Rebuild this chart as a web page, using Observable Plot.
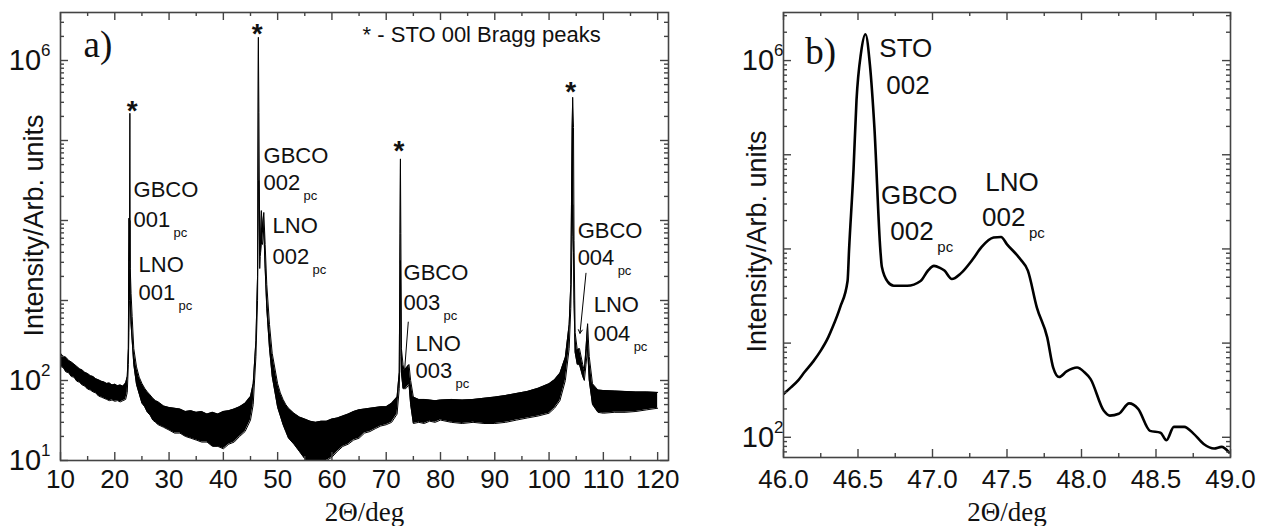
<!DOCTYPE html>
<html><head><meta charset="utf-8">
<script src="https://cdn.jsdelivr.net/npm/d3@7"></script>
<script src="https://cdn.jsdelivr.net/npm/@observablehq/plot@0.6"></script>
<style>
body{margin:0;background:#fff;}
#wrap{position:relative;width:1266px;height:526px;overflow:hidden;}
#pa{position:absolute;left:0;top:0;}
#pb{position:absolute;left:690px;top:0;}
</style></head>
<body><div id="wrap"><div id="pa"></div><div id="pb"></div></div>
<script>
// ---------- Panel a) : wide 2θ scan (noise band upper / lower envelope) ----------
const scanA_twoTheta = [10,10.5,11,11.5,12,12.5,13,13.5,14,14.5,15,15.5,16,16.5,17,17.5,18,18.5,19,19.5,20,20.5,21,21.5,22,22.3,22.5,22.6,22.7,22.78,22.85,23.0,23.2,23.5,24,24.5,25,25.5,26,26.5,27,27.5,28,29,30,31,32,33,34,35,36,37,38,39,40,41,42,43,44,45,45.5,46,46.3,46.45,46.55,46.7,46.8,47.0,47.2,47.45,47.7,48,48.5,49,50,50.5,51,51.5,52,53,54,55,56,57,58,59,60,61,62,63,64,65,66,67,68,69,70,71,72,72.4,72.55,72.62,72.7,72.8,73.1,73.3,73.6,74.2,74.5,75,76,77,78,79,80,82,84,86,88,90,92,94,96,98,100,101,102,103,103.7,104.0,104.25,104.35,104.5,104.6,104.8,105.2,105.6,106.2,106.5,106.8,107.1,107.4,108,109,110,112,114,116,118,120];
const scanA_upper = [219,200,195,178,170,160,150,140,135,126,122,115,112,105,102,98,96,92,93,88,90,86,88,85,93,112,251,10700,3160,219000,2510,1230,631,251,148,110,92,80,72,66,60,56,54,48,46,45,44,41,42,40,41,38,40,38,41,42,44,47,52,63,91,316,2000,1950000,224000,3980,4070,13300,7940,12600,5010,1580,501,219,91,70,58,50,45,39,35,33,31,30,31,31,33,34,36,38,41,43,44,45,46,47,47,52,62,126,6900,58900,6900,251,158,132,141,158,100,62,58,58,57,56,57,58,57,58,60,62,65,69,73,80,91,102,123,195,501,1580,145000,347000,145000,5620,398,240,251,158,132,251,513,200,91,76,75,74,73,72,72,71];
const scanA_lower = [150,145,128,125,112,110,98,95,88,85,78,76,72,70,64,62,60,58,56,57,55,56,54,56,58,71,158,398,1000,10000,1000,501,316,158,89,68,52,47,40,37,32,30,28,26,24,22,22,20,19,18,17,17,15,15,14,16,17,20,23,32,50,200,1000,31600,31600,2510,3550,5010,5010,7940,2510,794,251,112,46,36,28,23,19,16,13,10.5,9,9,9,10,11,13,15,16,18,19,22,23,25,27,28,30,38,79,200,3160,1000,126,79,79,79,89,50,29,30,29,31,30,32,30,29,30,29,29,30,32,34,36,39,45,56,100,251,794,6310,15800,3980,1000,224,158,158,112,100,158,251,100,50,40,39,40,40,41,43,45];

// annotation labels, panel a (film reflections)
const labA_name  = ["GBCO","LNO","GBCO","LNO","GBCO","LNO","GBCO","LNO"];
const labA_index = ["001","001","002","002","003","003","004","004"];
const labA_x     = [23.45,24.37,47.41,49.06,73.2,75.41,105.26,108.21];
const labA_yName = [19400,2300,53000,6900,1780,237,6100,708];
const labA_yIdx  = [8200,1000,24000,2900,750,106,2740,316];
// STO Bragg peak markers
const starA_x = [23.2,46.24,72.34,103.97];
const starA_y = [282000,2630000,91200,490000];
// leader arrows
const arrA_x1 = [74.06,106.8], arrA_y1 = [537,2190];
const arrA_x2 = [73.38,105.7], arrA_y2 = [133,389];
const legendA = {text:"* - STO 00l Bragg peaks", x:65.65, y:1680000};
const panelA_tag = {text:"a)", x:14.24, y:1090000};
const axisTitleA = {x:{text:"2\u0398/deg"}, y:{text:"Intensity/Arb. units", x:5.2, y:8660}};

const xTicksA = [10,20,30,40,50,60,70,80,90,100,110,120];
const xMinorA = [15,25,35,45,55,65,75,85,95,105,115];
const yTicksA = [1e1,1e2,1e3,1e4,1e5,1e6];
const yLabelsA = [1e6,1e2,1e1];

// ---------- Panel b) : zoom around STO 002 ----------
const scanB_twoTheta = [46.00,46.05,46.10,46.14,46.20,46.25,46.30,46.33,46.38,46.43,46.44,46.47,46.49,46.52,46.55,46.58,46.61,46.65,46.66,46.70,46.74,46.83,46.92,46.97,47.01,47.05,47.08,47.13,47.19,47.27,47.33,47.41,47.46,47.50,47.59,47.64,47.70,47.77,47.81,47.85,47.90,47.97,48.02,48.06,48.15,48.19,48.25,48.32,48.38,48.46,48.53,48.57,48.62,48.69,48.75,48.82,48.89,48.94,48.99];
const scanB_intensity = [288,339,405,490,640,832,1150,1480,2400,4570,9770,70000,380000,1200000,1905000,900000,195000,9770,6460,4470,4070,4070,4570,5900,6610,6300,5890,4790,5500,7760,10500,13200,13400,11200,7760,5890,2400,1150,550,437,500,550,490,417,191,170,178,229,200,117,112,93,129,129,110,85,76,79,69];

const labB_name = ["STO","GBCO","LNO"];
const labB_index = ["002","002","002"];
const labB_sub = ["","pc","pc"];
const labB_xName = [46.643,46.654,47.354];
const labB_yName = [1080000,30300,41700];
const labB_xIdx = [46.69,46.717,47.332];
const labB_yIdx = [447000,12300,17700];
const panelB_tag = {text:"b)", x:46.146, y:929000};
const axisTitleB = {x:{text:"2\u0398/deg"}, y:{text:"Intensity/Arb. units", x:45.824, y:11980}};

const xTicksB = [46.0,46.5,47.0,47.5,48.0,48.5,49.0];
const xMinorB = [46.25,46.75,47.25,47.75,48.25,48.75];
const yTicksB = [1e2,1e3,1e4,1e5,1e6];
const yLabelsB = [1e6,1e2];

// ---------- helpers ----------
const SANS = "Liberation Sans, Arial, sans-serif";
const SERIF = "Liberation Serif, Times New Roman, serif";
const INK = "#111";
function logMinors(domain){
  const out=[];
  for(let e=-1;e<8;e++) for(let k=2;k<=9;k++){const v=k*Math.pow(10,e); if(v>domain[0]&&v<domain[1]) out.push(v);}
  return out;
}
function frameTicks(xMaj,xMin,yMaj,yMin,fw,fh){
  const s={stroke:"#444",strokeWidth:1.4};
  return [
    Plot.tickX(xMaj,{x:d=>d,insetTop:fh-8,...s}),
    Plot.tickX(xMaj,{x:d=>d,insetBottom:fh-8,...s}),
    Plot.tickX(xMin,{x:d=>d,insetTop:fh-4,...s}),
    Plot.tickX(xMin,{x:d=>d,insetBottom:fh-4,...s}),
    Plot.tickY(yMaj,{y:d=>d,insetRight:fw-8,...s}),
    Plot.tickY(yMaj,{y:d=>d,insetLeft:fw-8,...s}),
    Plot.tickY(yMin,{y:d=>d,insetRight:fw-4,...s}),
    Plot.tickY(yMin,{y:d=>d,insetLeft:fw-4,...s}),
    Plot.frame({stroke:"#444",strokeWidth:1.6})
  ];
}
function post(svg){
  const root=d3.select(svg);
  root.selectAll("text").each(function(){
    const m=/^10\^(\d+)$/.exec(this.textContent);
    if(!m) return;
    const s=d3.select(this); s.text(null);
    s.append("tspan").text("10");
    s.append("tspan").attr("dy","-14").attr("font-size","17").text(m[1]);
  });
  root.selectAll('g[aria-label="x-label"] text').each(function(){
    const s=d3.select(this); s.text(null);
    s.append("tspan").text("2");
    s.append("tspan").attr("font-style","italic").text("\u0398");
    s.append("tspan").text("/deg");
  });
  root.selectAll('g[aria-label="y-label"] text').style("letter-spacing","1.1px");
}

// ---------- Panel a ----------
{
  const W=690,H=526,m={top:12,right:22,bottom:66,left:60};
  const fw=W-m.left-m.right, fh=H-m.top-m.bottom;
  const yDom=[10,3.98e6];
  const scan=scanA_twoTheta.map((x,i)=>({x,hi:scanA_upper[i],lo:scanA_lower[i]}));
  const labs=labA_name.map((n,i)=>({n,idx:labA_index[i],x:labA_x[i],yn:labA_yName[i],yi:labA_yIdx[i]}));
  const stars=starA_x.map((x,i)=>({x,y:starA_y[i]}));
  const arrows=arrA_x1.map((x1,i)=>({x1,y1:arrA_y1[i],x2:arrA_x2[i],y2:arrA_y2[i]}));
  const svg=Plot.plot({
    width:W,height:H,marginTop:m.top,marginRight:m.right,marginBottom:m.bottom,marginLeft:m.left,
    style:{fontFamily:SANS,color:INK,background:"white",overflow:"visible"},
    x:{domain:[10,122]},
    y:{type:"log",domain:yDom},
    marks:[
      Plot.areaY(scan,{x:"x",y1:"lo",y2:"hi",fill:"#000",clip:true}),
      Plot.line(scan,{x:"x",y:"hi",stroke:"#000",strokeWidth:1,clip:true}),
      Plot.line(scan,{x:"x",y:"lo",stroke:"#000",strokeWidth:1,clip:true}),
      Plot.arrow(arrows,{x1:"x1",y1:"y1",x2:"x2",y2:"y2",stroke:"#000",strokeWidth:1,headLength:6}),
      Plot.text(labs,{x:"x",y:"yn",text:"n",textAnchor:"start",lineAnchor:"bottom",fontSize:22,fill:INK}),
      Plot.text(labs,{x:"x",y:"yi",text:"idx",textAnchor:"start",lineAnchor:"bottom",fontSize:22,fill:INK}),
      Plot.text(labs,{x:"x",y:"yi",text:()=>"pc",textAnchor:"start",lineAnchor:"bottom",fontSize:13,dx:40,dy:10,fill:INK}),
      Plot.text(stars,{x:"x",y:"y",text:()=>"*",lineAnchor:"middle",fontSize:28,fontWeight:"bold",dy:7,fill:INK}),
      Plot.text([legendA],{x:"x",y:"y",text:"text",textAnchor:"start",lineAnchor:"bottom",fontSize:22,fill:INK}),
      Plot.text([panelA_tag],{x:"x",y:"y",text:"text",textAnchor:"start",lineAnchor:"bottom",fontSize:37,fontFamily:SERIF,fill:INK}),
      ...frameTicks(xTicksA,xMinorA,yTicksA,logMinors(yDom),fw,fh),
      Plot.axisX(xTicksA,{anchor:"bottom",tickSize:0,tickPadding:9,fontSize:26,tickFormat:d=>String(d),label:null}),
      Plot.axisY(yLabelsA,{anchor:"left",tickSize:0,tickPadding:10,fontSize:29,tickFormat:d=>"10^"+Math.round(Math.log10(d)),label:null}),
      Plot.text([axisTitleA.x],{frameAnchor:"bottom",text:"text",lineAnchor:"bottom",dy:60,fontSize:27,fontFamily:SERIF,fill:INK,ariaLabel:"x-label"}),
      Plot.text([axisTitleA.y],{x:"x",y:"y",text:"text",rotate:-90,textAnchor:"middle",lineAnchor:"middle",fontSize:27,fill:INK,ariaLabel:"y-label"})
    ]
  });
  post(svg);
  document.getElementById("pa").appendChild(svg);
}

// ---------- Panel b ----------
{
  const W=576,H=526,m={top:12,right:36,bottom:69,left:93};
  const fw=W-m.left-m.right, fh=H-m.top-m.bottom;
  const yDom=[61,3.24e6];
  const scan=scanB_twoTheta.map((x,i)=>({x,y:scanB_intensity[i]}));
  const labs=labB_name.map((n,i)=>({n,idx:labB_index[i],sub:labB_sub[i],xn:labB_xName[i],yn:labB_yName[i],xi:labB_xIdx[i],yi:labB_yIdx[i]}));
  const svg=Plot.plot({
    width:W,height:H,marginTop:m.top,marginRight:m.right,marginBottom:m.bottom,marginLeft:m.left,
    style:{fontFamily:SANS,color:INK,background:"white",overflow:"visible"},
    x:{domain:[46,49]},
    y:{type:"log",domain:yDom},
    marks:[
      Plot.line(scan,{x:"x",y:"y",stroke:"#000",strokeWidth:2.6,strokeLinejoin:"round",curve:"monotone-x",clip:true}),
      Plot.text(labs,{x:"xn",y:"yn",text:"n",textAnchor:"start",lineAnchor:"bottom",fontSize:26,fill:INK}),
      Plot.text(labs,{x:"xi",y:"yi",text:"idx",textAnchor:"start",lineAnchor:"bottom",fontSize:26,fill:INK}),
      Plot.text(labs,{x:"xi",y:"yi",text:"sub",textAnchor:"start",lineAnchor:"bottom",fontSize:15,dx:47,dy:12,fill:INK}),
      Plot.text([panelB_tag],{x:"x",y:"y",text:"text",textAnchor:"start",lineAnchor:"bottom",fontSize:37,fontFamily:SERIF,fill:INK}),
      ...frameTicks(xTicksB,xMinorB,yTicksB,logMinors(yDom),fw,fh),
      Plot.axisX(xTicksB,{anchor:"bottom",tickSize:0,tickPadding:12,fontSize:26,tickFormat:d=>d.toFixed(1),label:null}),
      Plot.axisY(yLabelsB,{anchor:"left",tickSize:0,tickPadding:0,fontSize:29,tickFormat:d=>"10^"+Math.round(Math.log10(d)),label:null}),
      Plot.text([axisTitleB.x],{frameAnchor:"bottom",text:"text",lineAnchor:"bottom",dy:63,fontSize:27,fontFamily:SERIF,fill:INK,ariaLabel:"x-label"}),
      Plot.text([axisTitleB.y],{x:"x",y:"y",text:"text",rotate:-90,textAnchor:"middle",lineAnchor:"middle",fontSize:27,fill:INK,ariaLabel:"y-label"})
    ]
  });
  post(svg);
  document.getElementById("pb").appendChild(svg);
}
</script>
</body></html>
